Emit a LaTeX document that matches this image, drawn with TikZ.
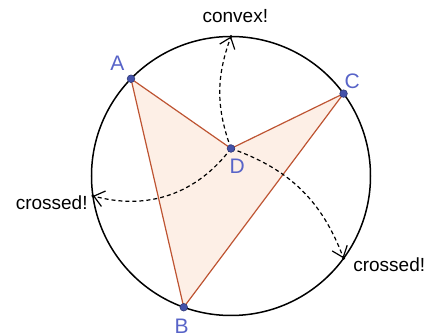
\documentclass[tikz,border=0pt]{standalone}
\usepackage{fontspec}
\setmainfont{Liberation Sans}
\usetikzlibrary{arrows.meta}

\definecolor{edgecol}{RGB}{190,84,50}
\definecolor{fillcol}{RGB}{253,239,230}
\definecolor{ptcol}{RGB}{68,82,170}
\definecolor{lblcol}{RGB}{88,100,200}

\begin{document}
\begin{tikzpicture}[x=0.5pt, y=0.5pt, >={Straight Barb[length=5pt,width=8pt]},
  font=\fontsize{9.5}{11}\selectfont,
  pt/.style={circle, fill=ptcol, draw=ptcol!70!black, line width=0.3pt, inner sep=0pt, minimum size=3.8pt},
  lbl/.style={text=lblcol, font=\fontsize{10.5}{12}\selectfont},
  move/.style={->, line width=0.6pt, dash pattern=on 2pt off 1.5pt}]

  \def\R{139.5}
  \useasboundingbox (-231,-160) rectangle (197,176);

  % the circle
  \draw[line width=0.75pt] (0,0) circle (\R);

  % A, B, C on the circle, D inside
  \coordinate (A) at (135.8:\R);
  \coordinate (C) at (36.2:\R);
  \coordinate (B) at (250.2:\R);
  \coordinate (D) at (0,27.5);

  % where D is moved to
  \coordinate (top)   at (90:\R);
  \coordinate (left)  at (188.2:\R);
  \coordinate (right) at (-36.2:\R);

  % quadrilateral A-D-C-B
  \filldraw[fill=fillcol, draw=edgecol, line width=0.6pt] (A) -- (D) -- (C) -- (B) -- cycle;

  % dashed moves of D
  \draw[move] (D) to[bend left=20] (top);
  \draw[move] (D) to[bend left=34] (left);
  \draw[move] (D) to[bend left=25] (right);
  \foreach \t in {top,left,right} {
    \fill (\t) circle (1.6);
  }

  % points
  \foreach \p in {A,B,C,D} {
    \node[pt] (pt\p) at (\p) {};
  }

  % point labels
  \node[lbl] (labA) at (-113.7,112.7) {A};
  \node[lbl] (labB) at (-49.3,-150) {B};
  \node[lbl] (labC) at (121.3,95) {C};
  \node[lbl] (labD) at (6.3,9.3) {D};

  % texts
  \node (convex) at (4.3,160) {convex!};
  \node (crossL) at (-179.3,-26.7) {crossed!};
  \node (crossR) at (158.2,-89) {crossed!};

\end{tikzpicture}
\end{document}
